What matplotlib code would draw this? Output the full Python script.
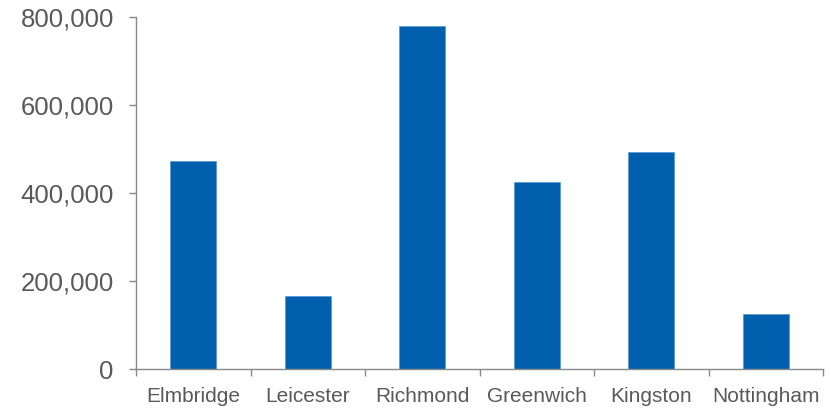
import numpy as np
from matplotlib import pyplot as plt
from matplotlib.ticker import FuncFormatter

towns = ['Elmbridge', 'Leicester', 'Richmond', 'Greenwich', 'Kingston', 'Nottingham']
values = [473000, 167000, 781000, 425000, 494000, 125000]

plt.rcParams['font.family'] = ['Liberation Sans', 'DejaVu Sans']

fig = plt.figure(dpi=100, figsize=(8.31, 4.08))
ax = fig.add_axes([136 / 831, 1 - 369.3 / 408, (823 - 136) / 831, (369.3 - 17.3) / 408])

x = np.arange(len(towns))
ax.bar(x, values, width=0.4, color='#0060ae', edgecolor='#4a8fd0', linewidth=0.4)

ax.set_xlim(-0.5, len(towns) - 0.5)
ax.set_ylim(0, 800000)
ax.set_yticks([0, 200000, 400000, 600000, 800000])
ax.yaxis.set_major_formatter(FuncFormatter(lambda v, p: f'{int(v):,}'))

# labels sit under each bar, tick marks sit between categories
ax.set_xticks(x)
ax.set_xticklabels(towns)
ax.set_xticks(np.arange(len(towns) + 1) - 0.5, minor=True)
ax.tick_params(axis='x', which='major', length=0, pad=13, labelsize=15, labelcolor='#595959')
ax.tick_params(axis='x', which='minor', length=5, width=1, color='#898989')
ax.tick_params(axis='y', length=5, width=1, color='#898989', pad=11,
               labelsize=18.5, labelcolor='#595959')

for side in ['top', 'right']:
    ax.spines[side].set_visible(False)
for side in ['left', 'bottom']:
    ax.spines[side].set_color('#898989')
    ax.spines[side].set_linewidth(1)

plt.savefig('out.png', dpi=100)
